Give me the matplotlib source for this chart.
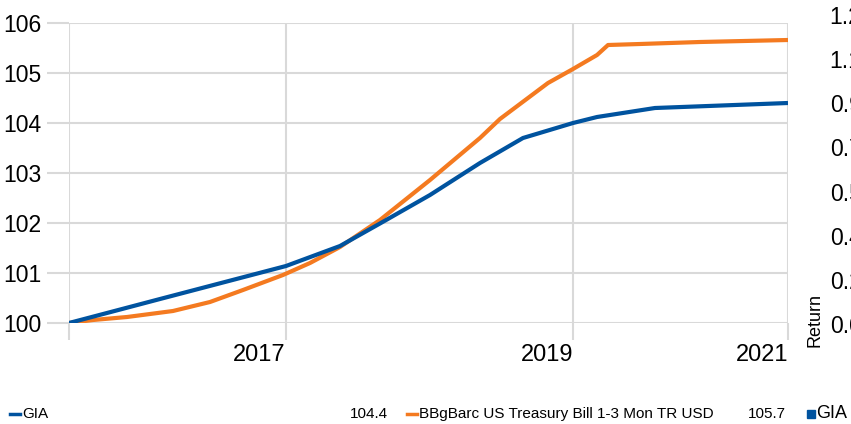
import matplotlib.pyplot as plt
from matplotlib.lines import Line2D
from matplotlib.patches import Rectangle

plt.rcParams['font.family'] = ['Liberation Sans', 'DejaVu Sans']

# x position along the period axis (0 = start, 10 = end of 2020)
gia_x = [0.0, 1.266, 3.018, 3.769, 4.325, 5.021, 5.716, 6.314, 7.010, 7.344, 7.524, 8.150, 10.0]
gia_y = [100.0, 100.48, 101.14, 101.54, 101.99, 102.56, 103.20, 103.70, 104.00, 104.12, 104.16, 104.30, 104.40]

tb_x = [0.0, 0.334, 0.807, 1.446, 1.961, 2.420, 2.976, 3.352, 3.769, 4.325, 5.021, 5.716, 5.994,
        6.662, 7.010, 7.344, 7.497, 7.941, 8.776, 10.0]
tb_y = [100.0, 100.06, 100.12, 100.24, 100.42, 100.66, 100.96, 101.20, 101.52, 102.06, 102.86, 103.70,
        104.08, 104.80, 105.08, 105.36, 105.56, 105.58, 105.62, 105.66]

year_pos = [0.0, 3.018, 7.010, 10.0]
year_labels = ['', '2017', '2019', '2021']
y_ticks = [100, 101, 102, 103, 104, 105, 106]

ret_ticks = [0.0, 0.175, 0.35, 0.525, 0.7, 0.875, 1.05, 1.225]
ret_labels = ['0.0', '0.2', '0.4', '0.5', '0.7', '0.9', '1.1', '1.2']

gia_last = '104.4'
tb_last = '105.7'
tb_name = 'BBgBarc US Treasury Bill 1-3 Mon TR USD'

blue = '#00539f'
orange = '#f47a20'
grid = '#d9d9d9'

W, H = 851, 424
fig = plt.figure(figsize=(W / 100, H / 100), dpi=100)

# main axes in pixel terms
ax = fig.add_axes([69 / W, 1 - 323 / H, 719 / W, 300 / H])
ax.plot(gia_x, gia_y, color=blue, lw=3, solid_capstyle='butt', zorder=3)
ax.plot(tb_x, tb_y, color=orange, lw=3, solid_capstyle='butt', zorder=2)
ax.set_xlim(0, 10)
ax.set_ylim(100, 106)
ax.set_yticks(y_ticks)
ax.set_xticks(year_pos)
ax.set_xticklabels(year_labels, ha='right', fontsize=17)
ax.tick_params(axis='y', labelsize=16.5, length=16, width=1.5, color=grid, pad=4)
ax.tick_params(axis='x', length=12, width=1.5, color=grid, pad=3)
for lbl in ax.get_xticklabels():
    lbl.set_horizontalalignment('right')
ax.grid(True, color=grid, lw=1.5, zorder=0)
for s in ax.spines.values():
    s.set_visible(False)

# right-hand "Return" axis, cut off by the figure edge
ax2 = fig.add_axes([69 / W, 1 - 324 / H, 719 / W, 309 / H])
ax2.patch.set_visible(False)
for s in ax2.spines.values():
    s.set_visible(False)
ax2.set_ylim(0, 1.225)
ax2.set_xticks([])
ax2.yaxis.tick_right()
ax2.set_yticks(ret_ticks)
ax2.set_yticklabels(ret_labels)
ax2.tick_params(axis='y', length=0, pad=30, labelsize=16.5)
fig.text(815 / W, 1 - 320 / H, 'Return', rotation=90, ha='center', va='center', fontsize=13)

# legend row along the bottom
ly = 1 - 414 / H
fig.add_artist(Line2D([10 / W, 20 / W], [ly, ly], color=blue, lw=2.5, transform=fig.transFigure))
fig.text(22 / W, ly, 'GIA', ha='left', va='center', fontsize=11)
fig.text(388 / W, ly, gia_last, ha='right', va='center', fontsize=11)
fig.add_artist(Line2D([407 / W, 417 / W], [ly, ly], color=orange, lw=2.5, transform=fig.transFigure))
fig.text(419 / W, ly, tb_name, ha='left', va='center', fontsize=11)
fig.text(748 / W, ly, tb_last, ha='left', va='center', fontsize=11)
fig.add_artist(Rectangle((807 / W, 1 - 418 / H), 8 / W, 8 / H, color=blue, transform=fig.transFigure))
fig.text(816 / W, ly, 'GIA', ha='left', va='center', fontsize=13)

fig.savefig('out.png', dpi=100)
